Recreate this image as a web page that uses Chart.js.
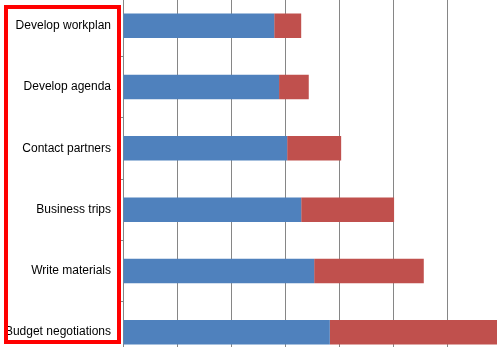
<!DOCTYPE html>
<html>
<head>
<meta charset="utf-8">
<script src="https://cdn.jsdelivr.net/npm/chart.js@4"></script>
<style>
  html, body { margin: 0; padding: 0; background: #fff; }
  #wrap { position: relative; width: 497px; height: 347px; overflow: hidden; }
  #chartBox { position: absolute; left: 0; top: -20px; width: 560px; height: 398px; }
  #frame { position: absolute; left: 4px; top: 5px; width: 117px; height: 339px;
           box-sizing: border-box; border: 4px solid #ff0000; pointer-events: none; }
</style>
</head>
<body>
<div id="wrap">
  <div id="chartBox"><canvas id="ganttChart"></canvas></div>
  <div id="frame"></div>
</div>
<script>
// tasks, start offset (hidden blue part is drawn too) and duration
const tasks = ['Develop workplan', 'Develop agenda', 'Contact partners', 'Business trips', 'Write materials', 'Budget negotiations'];
const startValues = [28, 28.9, 30.4, 33, 35.4, 38.3];
const durationValues = [5, 5.5, 10, 17.2, 20.3, 32];
const xTicks = [0, 10, 20, 30, 40, 50, 60, 70, 80];

const gridGray = '#868686';

const data = {
    labels: tasks,
    datasets: [
        {
            label: 'Start',
            data: startValues,
            backgroundColor: '#4f81bd',
            barPercentage: 0.4,
            categoryPercentage: 1
        },
        {
            label: 'Duration',
            data: durationValues,
            backgroundColor: '#c0504d',
            barPercentage: 0.4,
            categoryPercentage: 1
        }
    ]
};

const config = {
    type: 'bar',
    data: data,
    options: {
        indexAxis: 'y',
        responsive: false,
        animation: false,
        maintainAspectRatio: false,
        layout: { padding: { left: 0, right: 5, top: 0, bottom: 0 } },
        plugins: {
            legend: { display: false },
            tooltip: { enabled: false }
        },
        scales: {
            x: {
                stacked: true,
                min: xTicks[0],
                max: xTicks[xTicks.length - 1],
                afterBuildTicks: scale => { scale.ticks = xTicks.map(v => ({ value: v })); },
                ticks: { display: false },
                grid: { color: gridGray, lineWidth: 1, drawTicks: false },
                border: { display: false },
                afterFit: scale => { scale.height = 0; }
            },
            y: {
                stacked: true,
                grid: { drawOnChartArea: false, color: gridGray, tickLength: 4, offset: true },
                border: { color: gridGray, width: 1 },
                ticks: {
                    color: '#000000',
                    padding: 8,
                    font: { family: 'Liberation Sans', size: 12 }
                },
                afterFit: scale => { scale.width = 123; }
            }
        }
    }
};

const canvas = document.getElementById('ganttChart');
canvas.width = 560;
canvas.height = 398;
new Chart(canvas, config);
</script>
</body>
</html>
